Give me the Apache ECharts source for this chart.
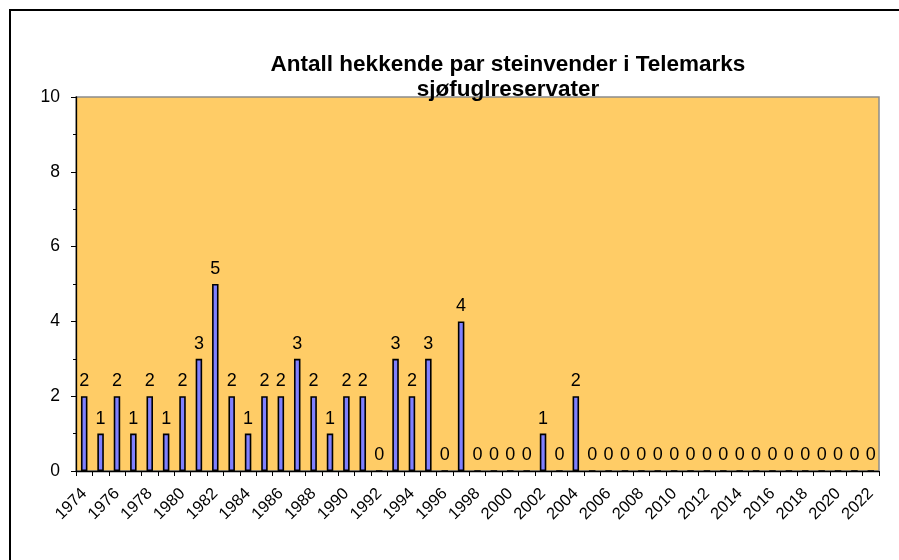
<!DOCTYPE html>
<html>
<head>
<meta charset="utf-8">
<script src="https://cdn.jsdelivr.net/npm/echarts@6/dist/echarts.min.js"></script>
<style>
html,body{margin:0;padding:0;background:#fff;}
#chart{width:899px;height:560px;}
</style>
</head>
<body>
<div id="chart"></div>
<script>
const titleLines = ['Antall hekkende par steinvender i Telemarks', 'sjøfuglreservater'];
const years = [];
for (let y = 1974; y <= 2022; y++) years.push(String(y));
const pairs = [2,1,2,1,2,1,2,3,5,2,1,2,2,3,2,1,2,2,0,3,2,3,0,4,0,0,0,0,1,0,2,
  0,0,0,0,0,0,0,0,0,0,0,0,0,0,0,0,0,0];
const yTicks = { min: 0, max: 10, interval: 2 };

const font = 'Liberation Sans, Arial, sans-serif';
const chart = echarts.init(document.getElementById('chart'), null, { renderer: 'canvas' });
chart.setOption({
  animation: false,
  backgroundColor: '#ffffff',
  title: {
    text: titleLines.join('\n'),
    left: 503,
    top: 47,
    textAlign: 'center',
    textStyle: { fontFamily: font, fontSize: 22.5, fontWeight: 'bold', color: '#000', lineHeight: 25 }
  },
  graphic: [{
    type: 'rect',
    shape: { x: 10, y: 10, width: 950, height: 650 },
    style: { fill: 'none', stroke: '#000', lineWidth: 2 },
    silent: true,
    z: -1
  }],
  grid: {
    left: 76, right: 20, top: 97, bottom: 89,
    show: true,
    backgroundColor: '#FFCC66',
    borderColor: '#8c8c8c',
    borderWidth: 1.5
  },
  xAxis: {
    type: 'category',
    data: years,
    boundaryGap: true,
    axisLine: { lineStyle: { color: '#000', width: 1.3 } },
    axisTick: { show: true, interval: 0, length: 5, lineStyle: { color: '#000' } },
    axisLabel: { interval: 1, rotate: 45, margin: 20, fontFamily: font, fontSize: 16.5, color: '#000' },
    splitLine: { show: false }
  },
  yAxis: {
    type: 'value',
    min: yTicks.min, max: yTicks.max, interval: yTicks.interval,
    axisLine: { show: true, lineStyle: { color: '#000', width: 1.3 } },
    axisTick: { show: true, length: 5, lineStyle: { color: '#000' } },
    minorTick: { show: true, splitNumber: 2, length: 3, lineStyle: { color: '#000' } },
    axisLabel: { margin: 16, fontFamily: font, fontSize: 17.5, color: '#000' },
    splitLine: { show: false }
  },
  series: [{
    type: 'bar',
    data: pairs,
    barWidth: 6.5,
    itemStyle: { color: '#8080FF', borderColor: '#000', borderWidth: 1.6 },
    label: { show: true, position: 'top', distance: 6, fontFamily: font, fontSize: 18, color: '#000' }
  }]
});
</script>
</body>
</html>
